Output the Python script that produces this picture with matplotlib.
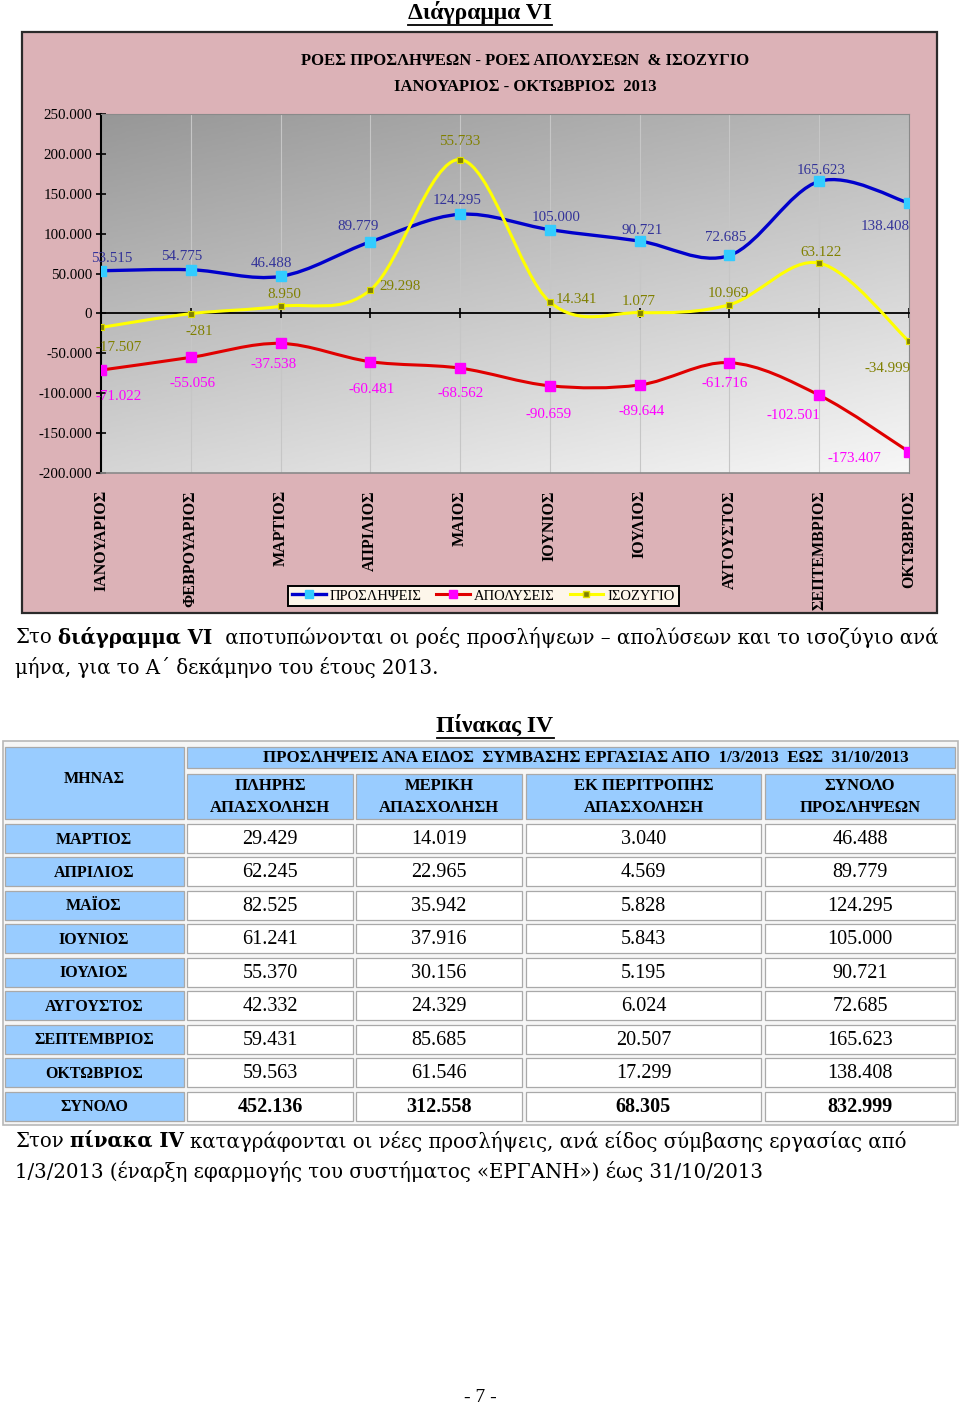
import matplotlib
matplotlib.use("Agg")
import matplotlib.pyplot as plt
import matplotlib.transforms as mtransforms
import numpy as np
from matplotlib.path import Path
from matplotlib.patches import PathPatch, Rectangle
from matplotlib.lines import Line2D

# --- chart data (Διάγραμμα VI) ---
months = ["ΙΑΝΟΥΑΡΙΟΣ", "ΦΕΒΡΟΥΑΡΙΟΣ", "ΜΑΡΤΙΟΣ", "ΑΠΡΙΛΙΟΣ", "ΜΑΙΟΣ",
          "ΙΟΥΝΙΟΣ", "ΙΟΥΛΙΟΣ", "ΑΥΓΟΥΣΤΟΣ", "ΣΕΠΤΕΜΒΡΙΟΣ", "ΟΚΤΩΒΡΙΟΣ"]
hires = [53515, 54775, 46488, 89779, 124295, 105000, 90721, 72685, 165623, 138408]
layoffs = [-71022, -55056, -37538, -60481, -68562, -90659, -89644, -61716, -102501, -173407]
# balance as it is drawn (the May point sits near 193k although its label reads 55.733)
balance = [-17507, -281, 8950, 29298, 192857, 14341, 1077, 10969, 63122, -34999]
balance_labels = ["-17.507", "-281", "8.950", "29.298", "55.733",
                  "14.341", "1.077", "10.969", "63.122", "-34.999"]
yticks = [-200000, -150000, -100000, -50000, 0, 50000, 100000, 150000, 200000, 250000]

# --- table data (Πίνακας IV) ---
tbl_months = ["ΜΑΡΤΙΟΣ", "ΑΠΡΙΛΙΟΣ", "ΜΑΪΟΣ", "ΙΟΥΝΙΟΣ", "ΙΟΥΛΙΟΣ",
              "ΑΥΓΟΥΣΤΟΣ", "ΣΕΠΤΕΜΒΡΙΟΣ", "ΟΚΤΩΒΡΙΟΣ", "ΣΥΝΟΛΟ"]
full_time = [29429, 62245, 82525, 61241, 55370, 42332, 59431, 59563, 452136]
part_time = [14019, 22965, 35942, 37916, 30156, 24329, 85685, 61546, 312558]
rotation = [3040, 4569, 5828, 5843, 5195, 6024, 20507, 17299, 68305]
total_hires = [46488, 89779, 124295, 105000, 90721, 72685, 165623, 138408, 832999]

SERIF = ["Liberation Serif", "DejaVu Serif"]
BODY = ["DejaVu Serif"]
plt.rcParams["font.family"] = SERIF


def gr(v):
    return f"{v:,}".replace(",", ".")


def smooth_path(xs, ys):
    # excel-like smoothed line: catmull-rom segments as cubic beziers
    pts = np.column_stack([xs, ys]).astype(float)
    n = len(pts)
    verts = [pts[0]]
    codes = [Path.MOVETO]
    for i in range(n - 1):
        p0 = pts[max(i - 1, 0)]
        p1 = pts[i]
        p2 = pts[i + 1]
        p3 = pts[min(i + 2, n - 1)]
        verts += [p1 + (p2 - p0) / 6, p2 - (p3 - p1) / 6, p2]
        codes += [Path.CURVE4] * 3
    return Path(verts, codes)


fig = plt.figure(figsize=(9.6, 14.07), dpi=100)
renderer = fig.canvas.get_renderer()

# page axes in pixel units
page = fig.add_axes([0, 0, 1, 1], zorder=0)
page.set_xlim(0, 960)
page.set_ylim(1407, 0)
page.axis("off")

# pink chart area
page.add_patch(Rectangle((22, 32), 915, 581, facecolor="#dcb2b7", edgecolor="#2a2a2a", lw=1.6))

title = page.text(480, 12, "Διάγραμμα VI", fontsize=17, fontweight="bold", ha="center", va="center")
page.text(525, 61, "ΡΟΕΣ ΠΡΟΣΛΗΨΕΩΝ - ΡΟΕΣ ΑΠΟΛΥΣΕΩΝ  & ΙΣΟΖΥΓΙΟ", fontsize=12,
          fontweight="bold", ha="center", va="center")
page.text(525, 87, "ΙΑΝΟΥΑΡΙΟΣ - ΟΚΤΩΒΡΙΟΣ  2013", fontsize=12,
          fontweight="bold", ha="center", va="center")

# plot area
ax = fig.add_axes([101 / 960, 1 - 473 / 1407, 808 / 960, 359 / 1407], zorder=2)
gu, gv = np.meshgrid(np.linspace(0, 1, 200), np.linspace(0, 1, 200))
grad = 0.35 * gu + 0.65 * gv
ax.imshow(grad, extent=[0, 1, 0, 1], transform=ax.transAxes, aspect="auto",
          cmap=matplotlib.colors.LinearSegmentedColormap.from_list("g", ["#979797", "#f7f7f7"]),
          origin="upper", zorder=0)
x = np.arange(len(months))
ax.set_xlim(0, len(months) - 1)
ax.set_ylim(-200000, 250000)

ax.add_patch(PathPatch(smooth_path(x, hires), fc="none", ec="#0000cc", lw=2.4, zorder=3))
ax.add_patch(PathPatch(smooth_path(x, layoffs), fc="none", ec="#e00000", lw=2.2, zorder=3))
ax.add_patch(PathPatch(smooth_path(x, balance), fc="none", ec="#ffff00", lw=2.2, zorder=3))
ax.plot(x, hires, ls="none", marker="s", ms=6.5, mfc="#33ccff", mec="#33ccff", zorder=4)
ax.plot(x, layoffs, ls="none", marker="s", ms=6.5, mfc="#ff00ff", mec="#ff00ff", zorder=4)
ax.plot(x, balance, ls="none", marker="s", ms=4.5, mfc="#808000", mec="#e0e000", mew=0.8, zorder=4)

hire_off = [(11, 12), (-9, 13), (-9, 13), (-12, 15), (-3, 14), (6, 12), (3, 11), (-4, 18), (2, 11), (-24, -23)]
lay_off = [(18, -26), (2, -26), (-7, -21), (1, -28), (1, -25), (-1, -29), (2, -27), (-5, -21), (-26, -20), (-55, -7)]
bal_off = [(18, -20), (9, -18), (4, 12), (30, 4), (0, 18), (27, 3), (-1, 11), (-1, 11), (2, 11), (-21, -27)]
for i in range(len(months)):
    ax.annotate(gr(hires[i]), (x[i], hires[i]), xytext=hire_off[i], textcoords="offset pixels",
                ha="center", va="center", fontsize=10.8, color="#333399", zorder=5)
    ax.annotate(gr(layoffs[i]), (x[i], layoffs[i]), xytext=lay_off[i], textcoords="offset pixels",
                ha="center", va="center", fontsize=10.8, color="#ff00ff", zorder=5)
    ax.annotate(balance_labels[i], (x[i], balance[i]), xytext=bal_off[i], textcoords="offset pixels",
                ha="center", va="center", fontsize=10.8, color="#808000", zorder=5)

ax.set_xticks(x)
ax.tick_params(axis="x", labelbottom=False, direction="inout", length=6.5, width=1.2)
ax.set_yticks(yticks)
ax.set_yticklabels([gr(v) for v in yticks], fontsize=10.8)
ax.tick_params(axis="y", direction="inout", length=6.5, width=1.2, pad=3)
ax.grid(axis="x", color="#c6c6c6", lw=0.8)
ax.set_axisbelow(True)
ax.spines["bottom"].set_position(("data", 0))
ax.spines["bottom"].set_linewidth(1.3)
ax.spines["left"].set_linewidth(1.5)
for s in ["top", "right"]:
    ax.spines[s].set_color("#8a8a8a")
ax.plot([0, 1], [0, 0], transform=ax.transAxes, color="#8a8a8a", lw=1.2, clip_on=False, zorder=5)

blend = mtransforms.blended_transform_factory(ax.transData, ax.transAxes)
for i, m in enumerate(months):
    ax.annotate(m, (x[i], 0), xycoords=blend, xytext=(0, -17), textcoords="offset pixels",
                rotation=90, ha="center", va="top", fontsize=11.5, fontweight="bold")

handles = [
    Line2D([], [], color="#0000cc", lw=2.4, marker="s", ms=6, mfc="#33ccff", mec="#33ccff"),
    Line2D([], [], color="#e00000", lw=2.2, marker="s", ms=6, mfc="#ff00ff", mec="#ff00ff"),
    Line2D([], [], color="#ffff00", lw=2.2, marker="s", ms=4.5, mfc="#808000", mec="#e0e000"),
]
leg = fig.legend(handles, ["ΠΡΟΣΛΗΨΕΙΣ", "ΑΠΟΛΥΣΕΙΣ", "ΙΣΟΖΥΓΙΟ"], loc="center",
                 bbox_to_anchor=(483.5 / 960, 1 - 596 / 1407), ncol=3, fancybox=False,
                 edgecolor="black", facecolor="#fdf6ea", framealpha=1, fontsize=10.5,
                 handlelength=2.3, columnspacing=1.0, borderpad=0.25, handletextpad=0.3)
leg.get_frame().set_linewidth(1.4)


def underline(t, lw=1.3):
    bb = t.get_window_extent(renderer)
    yb = 1407 - bb.y0 + 1
    page.plot([bb.x0, bb.x1], [yb, yb], color="black", lw=lw)


def rich_line(x0, y, parts, size, family=BODY, draw=True):
    space = size * 100 / 72 * 0.32
    start = x0
    for s, bold in parts:
        t = page.text(x0, y, s, fontsize=size, fontweight="bold" if bold else "normal",
                      ha="left", va="center", family=family)
        x0 += t.get_window_extent(renderer).width + space
        if not draw:
            t.remove()
    return x0 - space - start


def fit_size(parts, width, family=BODY):
    # pick the font size that makes the line span the wanted width
    w10 = rich_line(0, -100, parts, 10, family, draw=False)
    return 10 * width / w10


underline(title)

p1a = [("Στο", False), ("διάγραμμα VI", True),
       (" αποτυπώνονται οι ροές προσλήψεων – απολύσεων και το ισοζύγιο ανά", False)]
s1 = fit_size(p1a, 925)
rich_line(15, 637, p1a, s1)
rich_line(15, 667, [("μήνα, για το Α΄ δεκάμηνο του έτους 2013.", False)], s1)

# --- table ---
t_title = page.text(495, 726, "Πίνακας IV", fontsize=17, fontweight="bold", ha="center", va="center")
underline(t_title)

page.add_patch(Rectangle((3, 741), 955, 384, facecolor="#f6f6f6", edgecolor="#b8b8b8", lw=1.2))
cols = [(5, 184), (187, 353), (356, 522), (526, 761), (765, 955)]
BLUE = "#99ccff"


def cell(x0, x1, y0, y1, fc):
    page.add_patch(Rectangle((x0, y0), x1 - x0, y1 - y0, facecolor=fc, edgecolor="#a9a9a9", lw=0.9))


cell(5, 184, 747, 819, BLUE)
page.text(94, 779, "ΜΗΝΑΣ", fontsize=11.5, fontweight="bold", ha="center", va="center")
cell(187, 955, 747, 768, BLUE)
page.text(586, 758, "ΠΡΟΣΛΗΨΕΙΣ ΑΝΑ ΕΙΔΟΣ  ΣΥΜΒΑΣΗΣ ΕΡΓΑΣΙΑΣ ΑΠΟ  1/3/2013  ΕΩΣ  31/10/2013",
          fontsize=12.2, fontweight="bold", ha="center", va="center")
heads = [("ΠΛΗΡΗΣ", "ΑΠΑΣΧΟΛΗΣΗ"), ("ΜΕΡΙΚΗ", "ΑΠΑΣΧΟΛΗΣΗ"),
         ("ΕΚ ΠΕΡΙΤΡΟΠΗΣ", "ΑΠΑΣΧΟΛΗΣΗ"), ("ΣΥΝΟΛΟ", "ΠΡΟΣΛΗΨΕΩΝ")]
for (c0, c1), (h1, h2) in zip(cols[1:], heads):
    cell(c0, c1, 774, 819, BLUE)
    page.text((c0 + c1) / 2, 786, h1, fontsize=12, fontweight="bold", ha="center", va="center")
    page.text((c0 + c1) / 2, 808, h2, fontsize=12, fontweight="bold", ha="center", va="center")

for r, m in enumerate(tbl_months):
    yc = 838.5 + r * 33.45
    y0, y1 = yc - 14.5, yc + 14.5
    last = r == len(tbl_months) - 1
    cell(*cols[0], y0, y1, BLUE)
    page.text(94, yc + 1, m, fontsize=11.5, fontweight="bold", ha="center", va="center")
    for (c0, c1), vals in zip(cols[1:], [full_time, part_time, rotation, total_hires]):
        cell(c0, c1, y0, y1, "white")
        page.text((c0 + c1) / 2, yc + 1, gr(vals[r]), fontsize=14.5,
                  fontweight="bold" if last else "normal", ha="center", va="center")

p2a = [("Στον", False), ("πίνακα IV", True),
       ("καταγράφονται οι νέες προσλήψεις, ανά είδος σύμβασης εργασίας από", False)]
s2 = fit_size(p2a, 893)
rich_line(15, 1141, p2a, s2)
rich_line(15, 1171, [("1/3/2013 (έναρξη εφαρμογής του συστήματος «ΕΡΓΑΝΗ») έως 31/10/2013", False)], s2)

page.text(480, 1397, "- 7 -", fontsize=14, ha="center", va="center")

fig.savefig("out.png", dpi=100)
